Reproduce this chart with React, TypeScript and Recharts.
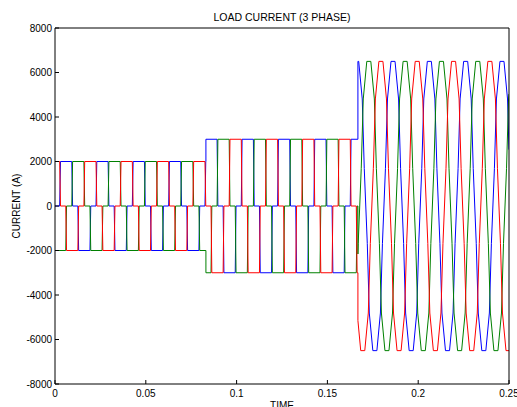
import { Line, LineChart, XAxis, YAxis } from 'recharts'

const timeTicks = [0, 0.05, 0.1, 0.15, 0.2, 0.25]
const currentTicks = [-8000, -6000, -4000, -2000, 0, 2000, 4000, 6000, 8000]

// the three phases, drawn in this order; lag in degrees behind the blue one
const phaseNames = ['ia', 'ib', 'ic']
const phaseColors = ['#0000ff', '#008000', '#ff0000']
const phaseLags = [0, 120, 240]

const period = 0.02
const firstEdge = 0.0028 // first rising edge of the blue phase

// three load steps
const segStarts = [0, 0.0831, 0.1668]
const segEnds = [0.0831, 0.1668, 0.25]
const segAmps = [2000, 3000, 6500]
const segShapes = ['square', 'square', 'trap']

// 120 degree conduction: [angle, per-unit level]
const squareShape = [
  [-4, 0], [4, 1], [116, 1], [124, 0], [176, 0], [184, -1], [296, -1], [304, 0],
]
// heavy load: [angle, per-unit level]
const trapShape = [
  [-100, -1], [-65, -0.74], [-45, -0.26], [-15, 0.26], [5, 0.74], [40, 1],
  [80, 1], [115, 0.74], [135, 0.26], [165, -0.26], [185, -0.74], [220, -1],
]

const shapes: Record<string, number[][]> = { square: squareShape, trap: trapShape }

const levelAt = (shape: number[][], ang: number) => {
  const base = shape[0][0]
  const a = ((((ang - base) % 360) + 360) % 360) + base
  for (let i = 0; i < shape.length; i++) {
    const [a0, v0] = shape[i]
    const a1 = i + 1 < shape.length ? shape[i + 1][0] : base + 360
    const v1 = shape[(i + 1) % shape.length][1]
    if (a >= a0 && a <= a1) return v0 + ((v1 - v0) * (a - a0)) / (a1 - a0)
  }
  return 0
}

const buildPhase = (lag: number) => {
  const pts: { t: number; v: number }[] = []
  segStarts.forEach((s, j) => {
    const e = segEnds[j]
    const shape = shapes[segShapes[j]]
    const amp = segAmps[j]
    const angOf = (t: number) => ((t - firstEdge) / period) * 360 - lag
    const tOf = (ang: number) => firstEdge + ((ang + lag) / 360) * period
    pts.push({ t: s, v: amp * levelAt(shape, angOf(s)) })
    const k0 = Math.floor((angOf(s) - shape[0][0]) / 360) - 1
    const k1 = Math.ceil((angOf(e) - shape[0][0]) / 360) + 1
    for (let k = k0; k <= k1; k++) {
      shape.forEach(([a, lv]) => {
        const t = tOf(a + 360 * k)
        if (t > s && t < e) pts.push({ t, v: amp * lv })
      })
    }
    pts.push({ t: e, v: amp * levelAt(shape, angOf(e)) })
  })
  return pts
}

const axisFont = { fill: '#000', fontSize: 10 }

export default function App() {
  const series = phaseLags.map((lag) => buildPhase(lag))

  return (
    <div style={{ position: 'absolute', left: 0, top: 0, fontFamily: '"Liberation Sans", Arial, sans-serif' }}>
      <LineChart width={517} height={407} margin={{ top: 27, right: 7, bottom: 0, left: 0 }}>
        <XAxis
          dataKey="t"
          type="number"
          domain={[0, 0.25]}
          ticks={timeTicks}
          interval={0}
          allowDataOverflow
          height={23}
          tickSize={-4}
          tickMargin={10}
          stroke="#000"
          tick={axisFont}
          tickFormatter={(v) => String(v)}
          label={{ value: 'TIME', position: 'bottom', offset: -5, fill: '#000', fontSize: 10 }}
        />
        <XAxis
          xAxisId="top"
          orientation="top"
          dataKey="t"
          type="number"
          domain={[0, 0.25]}
          ticks={timeTicks}
          interval={0}
          allowDataOverflow
          height={1}
          tickSize={-4}
          stroke="#000"
          tick={false}
          label={{ value: 'LOAD CURRENT (3 PHASE)', position: 'top', offset: 6, fill: '#000', fontSize: 10.5 }}
        />
        <YAxis
          type="number"
          domain={[-8000, 8000]}
          ticks={currentTicks}
          interval={0}
          allowDataOverflow
          width={55}
          tickSize={-4}
          tickMargin={7}
          stroke="#000"
          tick={axisFont}
          label={{
            value: 'CURRENT (A)',
            angle: -90,
            position: 'insideLeft',
            offset: 16,
            fill: '#000',
            fontSize: 10,
            style: { textAnchor: 'middle' },
          }}
        />
        <YAxis
          yAxisId="right"
          orientation="right"
          type="number"
          domain={[-8000, 8000]}
          ticks={currentTicks}
          interval={0}
          allowDataOverflow
          width={1}
          tickSize={-4}
          stroke="#000"
          tick={false}
        />
        {series.map((pts, i) => (
          <Line
            key={phaseNames[i]}
            data={pts}
            dataKey="v"
            name={phaseNames[i]}
            type="linear"
            stroke={phaseColors[i]}
            strokeWidth={1}
            dot={false}
            isAnimationActive={false}
          />
        ))}
      </LineChart>
    </div>
  )
}
